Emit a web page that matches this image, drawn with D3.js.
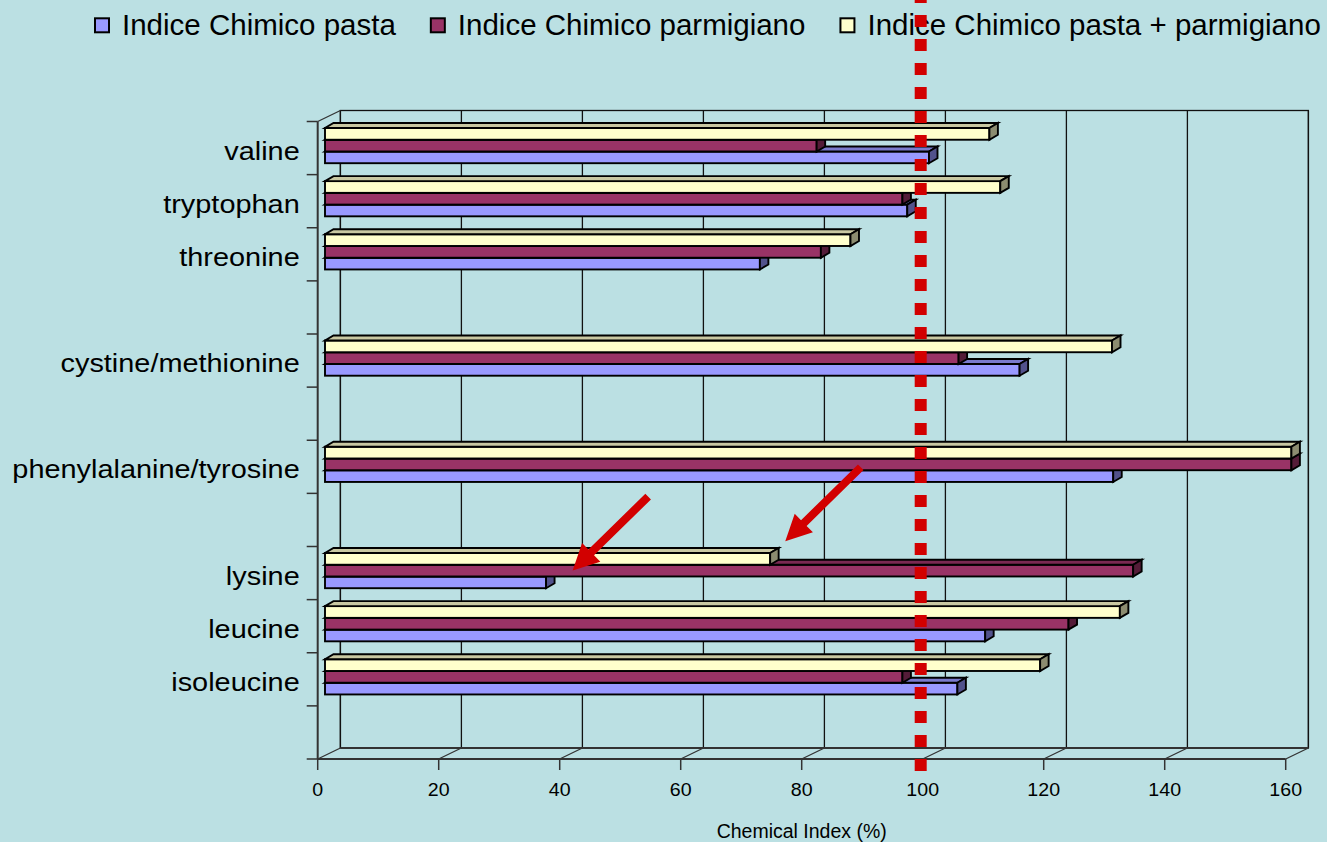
<!DOCTYPE html>
<html>
<head>
<meta charset="utf-8">
<script src="https://cdn.jsdelivr.net/npm/d3@7"></script>
<style>
  html, body { margin: 0; padding: 0; background: #BBE0E3; }
  svg { display: block; font-family: "Liberation Sans", Arial, sans-serif; }
</style>
</head>
<body>
<svg id="chart" width="1327" height="842"></svg>
<script>
// ---- data ----------------------------------------------------------------
// category slots, top to bottom (empty strings are spacer slots)
const categories = ["valine", "tryptophan", "threonine", "", "cystine/methionine", "",
                    "phenylalanine/tyrosine", "", "lysine", "leucine", "isoleucine", ""];
const pasta           = [100, 96.4, 72, null, 115, null, 130.5, null, 36.6, 109.3, 104.7, null];
const parmigiano      = [81.4, 95.6, 82.1, null, 104.9, null, 160, null, 133.8, 123.1, 95.6, null];
const pastaParmigiano = [110, 111.8, 87, null, 130.3, null, 160, null, 73.7, 131.6, 118.4, null];
const seriesNames = ["Indice Chimico pasta", "Indice Chimico parmigiano", "Indice Chimico pasta + parmigiano"];
const xTicks = [0, 20, 40, 60, 80, 100, 120, 140, 160];
const xTitle = "Chemical Index (%)";
const referenceValue = 100;
// arrow annotations: category slot, value the tip points at, series level
const arrows = [
  { slot: 8, value: 41, series: 1 },
  { slot: 8, value: 76.2, series: 2 }
];

// ---- styles --------------------------------------------------------------
const colors = {
  front: ["#9999FF", "#993366", "#FFFFCC"],
  top:   ["#7A7ACC", "#7A2952", "#C9C8A2"],
  side:  ["#52528C", "#541C38", "#8C8C70"]
};
const red = "#D20000";

const svg = d3.select("#chart");

// ---- 3D frame geometry ------------------------------------------------------
const xFront = d3.scaleLinear().domain([0, 160]).range([317.7, 1285.7]);
const depth = { dx: 22.7, dy: -11 };                 // wall depth vector
const xBack = v => xFront(v) + depth.dx;
const yFrontTop = 121.5, yFrontBottom = 759;
const slots = d3.scaleBand().domain(d3.range(categories.length)).range([yFrontTop, yFrontBottom]);
// bars sit slightly behind the front plane
const xBar = d3.scaleLinear().domain([0, 160]).range([325, 1291.4]);
// order inside a slot: combined on top, parmigiano, pasta at the bottom
const barBand = d3.scaleBand().domain([2, 1, 0]).range([6.5, 41.7]);
const barDepth = { dx: 8.5, dy: -5 };

const frame = svg.append("g");

// back wall outline and vertical gridlines
frame.append("rect")
  .attr("x", xBack(0)).attr("y", yFrontTop + depth.dy)
  .attr("width", xBack(160) - xBack(0)).attr("height", yFrontBottom - yFrontTop)
  .attr("fill", "none").attr("stroke", "#111").attr("stroke-width", 1.3);
frame.selectAll("line.grid").data(xTicks).join("line")
  .attr("class", "grid")
  .attr("x1", d => xBack(d)).attr("x2", d => xBack(d))
  .attr("y1", yFrontTop + depth.dy).attr("y2", yFrontBottom + depth.dy)
  .attr("stroke", "#111").attr("stroke-width", 1.3);

// floor: front edge and depth diagonals
frame.append("line")
  .attr("x1", xFront(0)).attr("x2", xFront(160))
  .attr("y1", yFrontBottom).attr("y2", yFrontBottom)
  .attr("stroke", "#333").attr("stroke-width", 2);
frame.append("line")
  .attr("x1", xBack(0)).attr("x2", xBack(160))
  .attr("y1", yFrontBottom + depth.dy).attr("y2", yFrontBottom + depth.dy)
  .attr("stroke", "#333").attr("stroke-width", 2);
frame.selectAll("line.diag").data(xTicks).join("line")
  .attr("class", "diag")
  .attr("x1", d => xFront(d)).attr("y1", yFrontBottom)
  .attr("x2", d => xBack(d)).attr("y2", yFrontBottom + depth.dy)
  .attr("stroke", "#333").attr("stroke-width", 1.3);

// left side: front axis line and its top diagonal
frame.append("line")
  .attr("x1", xFront(0)).attr("x2", xFront(0))
  .attr("y1", yFrontTop).attr("y2", yFrontBottom)
  .attr("stroke", "#333").attr("stroke-width", 2);
frame.append("line")
  .attr("x1", xFront(0)).attr("y1", yFrontTop)
  .attr("x2", xBack(0)).attr("y2", yFrontTop + depth.dy)
  .attr("stroke", "#333").attr("stroke-width", 1.3);

// category axis ticks at slot boundaries
const slotEdges = d3.range(categories.length + 1).map(i => yFrontTop + i * slots.step());
frame.selectAll("line.ytick").data(slotEdges).join("line")
  .attr("class", "ytick")
  .attr("x1", xFront(0) - 11).attr("x2", xFront(0))
  .attr("y1", d => d).attr("y2", d => d)
  .attr("stroke", "#333").attr("stroke-width", 1.5);

// value axis ticks and labels
frame.selectAll("line.xtick").data(xTicks).join("line")
  .attr("class", "xtick")
  .attr("x1", d => xFront(d)).attr("x2", d => xFront(d))
  .attr("y1", yFrontBottom).attr("y2", yFrontBottom + 11)
  .attr("stroke", "#333").attr("stroke-width", 1.5);
frame.selectAll("text.xlab").data(xTicks).join("text")
  .attr("class", "xlab")
  .attr("transform", d => `translate(${xFront(d)},${yFrontBottom + 37}) scale(1.06,1)`)
  .attr("text-anchor", "middle")
  .attr("font-size", 18.5).attr("fill", "#000")
  .text(d => d);

frame.append("text")
  .attr("x", (xFront(0) + xFront(160)) / 2).attr("y", 838)
  .attr("text-anchor", "middle").attr("font-size", 19.5).attr("fill", "#000")
  .text(xTitle);

// category labels
frame.selectAll("text.ylab").data(categories.map((c, i) => ({ c, i })).filter(d => d.c)).join("text")
  .attr("class", "ylab")
  .attr("transform", d => `translate(${xFront(0) - 18},${slots(d.i) + slots.bandwidth() / 2 + 11.5}) scale(1.12,1)`)
  .attr("text-anchor", "end")
  .attr("font-size", 25.8).attr("fill", "#000")
  .text(d => d.c);

// ---- 3D bars ---------------------------------------------------------------
const seriesValues = [pasta, parmigiano, pastaParmigiano];
const bars = [];
categories.forEach((c, i) => {
  [0, 1, 2].forEach(s => {           // pasta first so upper bars overlap it
    const v = seriesValues[s][i];
    if (v == null) return;
    bars.push({ i, s, v });
  });
});

const barG = svg.append("g")
  .attr("stroke", "#000").attr("stroke-width", 1.9).attr("stroke-linejoin", "miter");
bars.forEach(b => {
  const x0 = xBar(0), x1 = xBar(b.v);
  const y0 = slots(b.i) + barBand(b.s), h = barBand.bandwidth();
  const { dx, dy } = barDepth;
  const g = barG.append("g");
  g.append("rect").attr("x", x0).attr("y", y0).attr("width", x1 - x0).attr("height", h)
    .attr("fill", colors.front[b.s]);
  g.append("polygon")
    .attr("points", [[x0, y0], [x1, y0], [x1 + dx, y0 + dy], [x0 + dx, y0 + dy]].join(" "))
    .attr("fill", colors.top[b.s]);
  g.append("polygon")
    .attr("points", [[x1, y0], [x1 + dx, y0 + dy], [x1 + dx, y0 + h + dy], [x1, y0 + h]].join(" "))
    .attr("fill", colors.side[b.s]);
});

// ---- legend ------------------------------------------------------------------
const legend = svg.append("g");
let lx = 94;
seriesNames.forEach((name, s) => {
  legend.append("rect")
    .attr("x", lx + 1).attr("y", 18.3).attr("width", 14).attr("height", 14)
    .attr("fill", colors.front[s]).attr("stroke", "#000").attr("stroke-width", 2);
  const t = legend.append("text")
    .attr("x", lx + 28).attr("y", 35)
    .attr("font-size", 29.5).attr("fill", "#000")
    .text(name);
  lx += 28 + t.node().getComputedTextLength() + 34;
});

// ---- annotations: reference line and arrows ------------------------------------
const ann = svg.append("g");
ann.append("line")
  .attr("x1", xFront(referenceValue) - 2).attr("x2", xFront(referenceValue) - 2)
  .attr("y1", -9).attr("y2", 771)
  .attr("stroke", red).attr("stroke-width", 12)
  .attr("stroke-dasharray", "12 12");

const tailOffset = [75.5, -74];
const shaftHalf = 4, headHalf = 13, headLen = 26;
arrows.forEach(a => {
  let tip;
  if (a.series === 1) {
    tip = [xBar(a.value), slots(a.slot) + barBand(a.series) + barBand.bandwidth() / 2];
  } else {
    tip = [xBar(a.value), slots(a.slot) + barBand(a.series) - barBand.bandwidth()];
  }
  const tail = [tip[0] + tailOffset[0], tip[1] + tailOffset[1]];
  const len = Math.hypot(tail[0] - tip[0], tail[1] - tip[1]);
  const u = [(tail[0] - tip[0]) / len, (tail[1] - tip[1]) / len];
  const n = [-u[1], u[0]];
  const base = [tip[0] + u[0] * headLen, tip[1] + u[1] * headLen];
  const pt = (p, k) => [p[0] + n[0] * k, p[1] + n[1] * k];
  const pts = [tip, pt(base, headHalf), pt(base, shaftHalf), pt(tail, shaftHalf),
               pt(tail, -shaftHalf), pt(base, -shaftHalf), pt(base, -headHalf)];
  ann.append("polygon").attr("points", pts.join(" ")).attr("fill", red);
});
</script>
</body>
</html>
